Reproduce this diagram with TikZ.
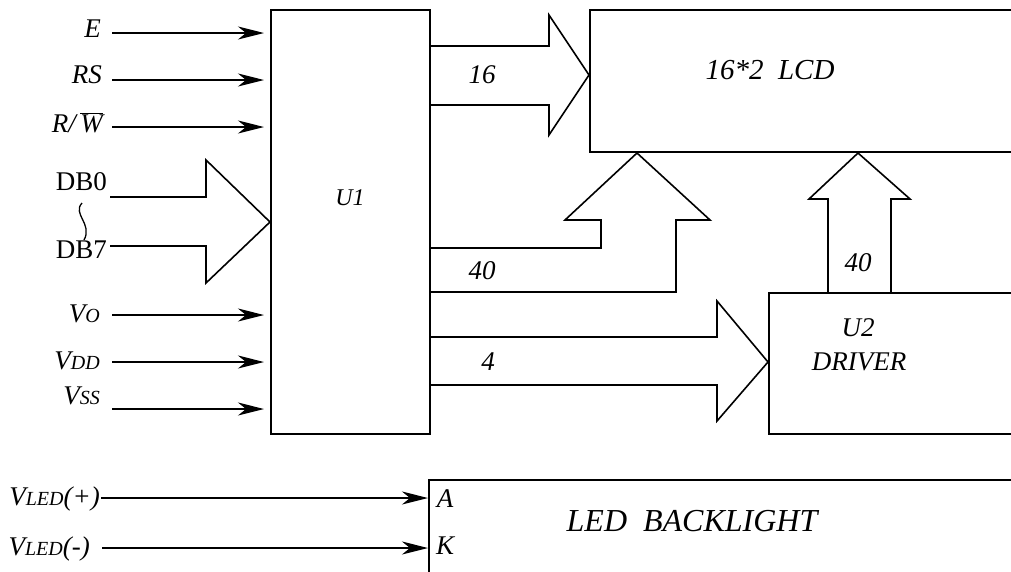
\documentclass[tikz,border=0pt]{standalone}
\usepackage{fontspec}
\setmainfont{Liberation Serif}
\usetikzlibrary{arrows.meta}
\newcommand{\sz}[1]{\fontsize{#1}{#1}\selectfont}
\newcommand{\sub}[1]{{\sz{20}#1}}
\begin{document}
\begin{tikzpicture}[x=1pt,y=-1pt,
  blk/.style={draw, line width=2pt, rectangle, inner sep=0pt, anchor=north west},
  sig/.style={line width=1.5pt, -{Stealth[length=26pt,width=13pt,inset=8pt]}},
  bus/.style={line width=1.6pt, line join=miter},
  lbl/.style={font=\sz{27}\itshape, inner sep=0pt},
  inl/.style={lbl, anchor=base east},
  dbl/.style={font=\sz{27}, inner sep=0pt, anchor=base east}]
\useasboundingbox (0,0) rectangle (1011,571);
\clip (0,0) rectangle (1011,571);

% blocks
\node[blk, minimum width=159pt, minimum height=424pt] (U1) at (270,9) {};
\node[lbl, font=\sz{24}\itshape] (U1t) at (350,198) {U1};
\node[blk, minimum width=450pt, minimum height=142pt] (LCD) at (589,9) {};
\node[lbl, font=\sz{29}\itshape] (LCDt) at (770,70) {16*2\ \ LCD};
\node[blk, minimum width=270pt, minimum height=141pt] (U2) at (768,292) {};
\node[lbl] (U2t) at (858,328) {U2};
\node[lbl] (U2d) at (859,362) {DRIVER};
\node[blk, minimum width=620pt, minimum height=130pt] (LED) at (428,479) {};
\node[lbl, font=\sz{32}\itshape] (LEDt) at (692,521) {LED\ \ BACKLIGHT};
\node[lbl] (LA) at (445,499) {A};
\node[lbl] (LK) at (445,546) {K};

% input labels
\node[inl] (lE) at (101,37) {E};
\node[inl] (lRS) at (102,83) {RS};
\node[inl] (lRW) at (103,132) {R/\,$\overline{\mbox{\itshape W}}$};
\node[dbl] (lD0) at (107,190) {DB0};
\node[dbl] (lD7) at (107,258) {DB7};
\node[inl] (lVo) at (100,322) {V\sub{O}};
\node[inl] (lVdd) at (100,369) {V\sub{DD}};
\node[inl] (lVss) at (100,404) {V\sub{SS}};
\node[inl] (lLp) at (100,505) {V\sub{LED}(+)};
\node[inl] (lLm) at (90,555) {V\sub{LED}(-)};

% signal start points
\coordinate (sE) at (112,33);
\coordinate (sRS) at (112,80);
\coordinate (sRW) at (112,127);
\coordinate (sVo) at (112,315);
\coordinate (sVdd) at (112,362);
\coordinate (sVss) at (112,409);
\coordinate (sLp) at (101,498);
\coordinate (sLm) at (102,548);

\foreach \s in {sE,sRS,sRW,sVo,sVdd,sVss}
  \draw[sig, shorten >=6pt] (\s) -- (U1.west |- \s);
\draw[sig] (sLp) -- (LED.west |- sLp);
\draw[sig] (sLm) -- (LED.west |- sLm);

% DB bus
\draw[bus] (110,197) -- (206,197) -- (206,160) -- (U1.west) -- (206,283) -- (206,246) -- (110,246);
\draw[line width=1.3pt] (82,203) .. controls (72,214) and (93,224) .. (84,240);

% 16 bus to LCD
\draw[bus] (U1.east |- 0,46) -- (549,46) -- (549,15) -- (LCD.west |- 0,75) -- (549,135) -- (549,105) -- (U1.east |- 0,105);
\node[lbl] (n16) at (482,75) {16};

% 40 bus U1 -> LCD
\draw[bus] (U1.east |- 0,248) -- (601,248) -- (601,220) -- (565,220) -- (LCD.south -| 637,0) -- (710,220) -- (676,220) -- (676,292) -- (U1.east |- 0,292);
\node[lbl] (n40a) at (482,271) {40};

% 40 bus U2 -> LCD
\draw[bus] (U2.north -| 828,0) -- (828,199) -- (809,199) -- (LCD.south -| 858,0) -- (910,199) -- (891,199) -- (U2.north -| 891,0);
\node[lbl] (n40b) at (858,263) {40};

% 4 bus U1 -> U2
\draw[bus] (U1.east |- 0,337) -- (717,337) -- (717,301) -- (U2.west |- 0,362) -- (717,421) -- (717,385) -- (U1.east |- 0,385);
\node[lbl] (n4) at (488,362) {4};
\end{tikzpicture}
\end{document}
